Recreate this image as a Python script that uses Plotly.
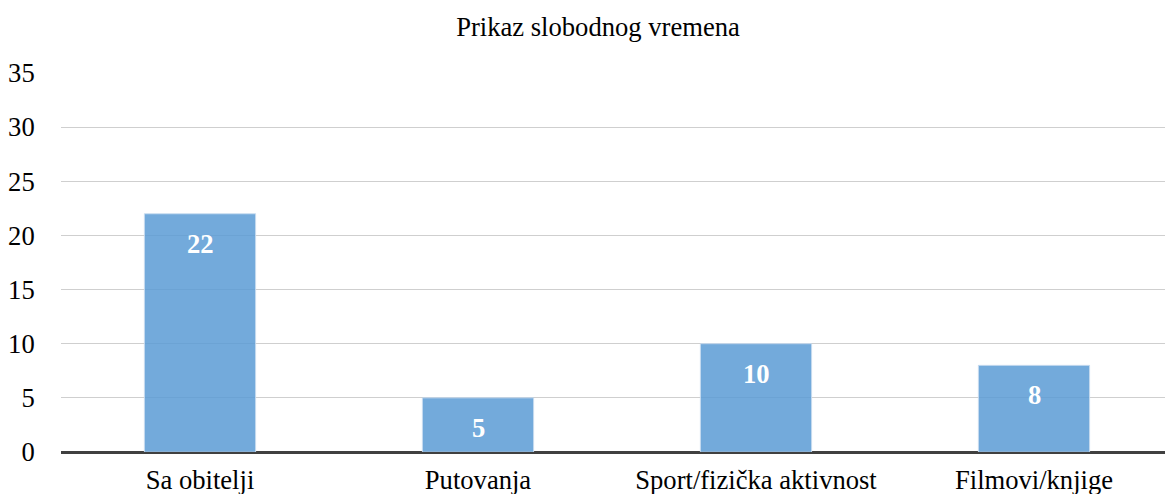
import plotly.graph_objects as go

# podaci
kategorije = ['Sa obitelji', 'Putovanja', 'Sport/fizička aktivnost', 'Filmovi/knjige']
vrijednosti = [22, 5, 10, 8]
y_tickovi = [0, 5, 10, 15, 20, 25, 30, 35]

font_serif = 'Liberation Serif'
vel = 26.6

fig = go.Figure()

fig.add_trace(go.Bar(
    x=kategorije,
    y=vrijednosti,
    width=0.4,
    marker=dict(color='rgba(91,155,213,0.85)',
                line=dict(color='rgba(200,220,240,0.9)', width=1)),
    hoverinfo='x+y',
))

# brojke unutar stupaca
for k, v in zip(kategorije, vrijednosti):
    fig.add_annotation(
        x=k, y=v, text=f'<b>{v}</b>', showarrow=False,
        yshift=-30, font=dict(family=font_serif, size=vel, color='white'),
    )

# stranica ima 8px ruba, pa je figura malo manja
fig.update_layout(
    width=1165, height=486,
    margin=dict(l=53, r=0, t=65, b=42),
    paper_bgcolor='white',
    plot_bgcolor='white',
    showlegend=False,
    title=dict(text='Prikaz slobodnog vremena', x=590 / 1165, xanchor='center',
               y=1 - 19 / 486, yanchor='middle',
               font=dict(family=font_serif, size=vel, color='black')),
    font=dict(family=font_serif, size=vel, color='black'),
    bargap=0.6,
)

fig.update_xaxes(
    showgrid=False,
    showline=False,
    ticks='',
    ticklabelstandoff=9,
    tickfont=dict(family=font_serif, size=vel, color='black'),
    range=[-0.5, 3.5],
)

fig.update_yaxes(
    range=[0, 35],
    tickvals=y_tickovi,
    showgrid=True,
    gridcolor='#cfcfcf',
    gridwidth=1,
    zeroline=True,
    zerolinecolor='#404040',
    zerolinewidth=3,
    showline=False,
    ticks='outside',
    ticklen=20,
    tickcolor='rgba(0,0,0,0)',
    tickfont=dict(family=font_serif, size=vel, color='black'),
)

fig.write_html('out.html')
